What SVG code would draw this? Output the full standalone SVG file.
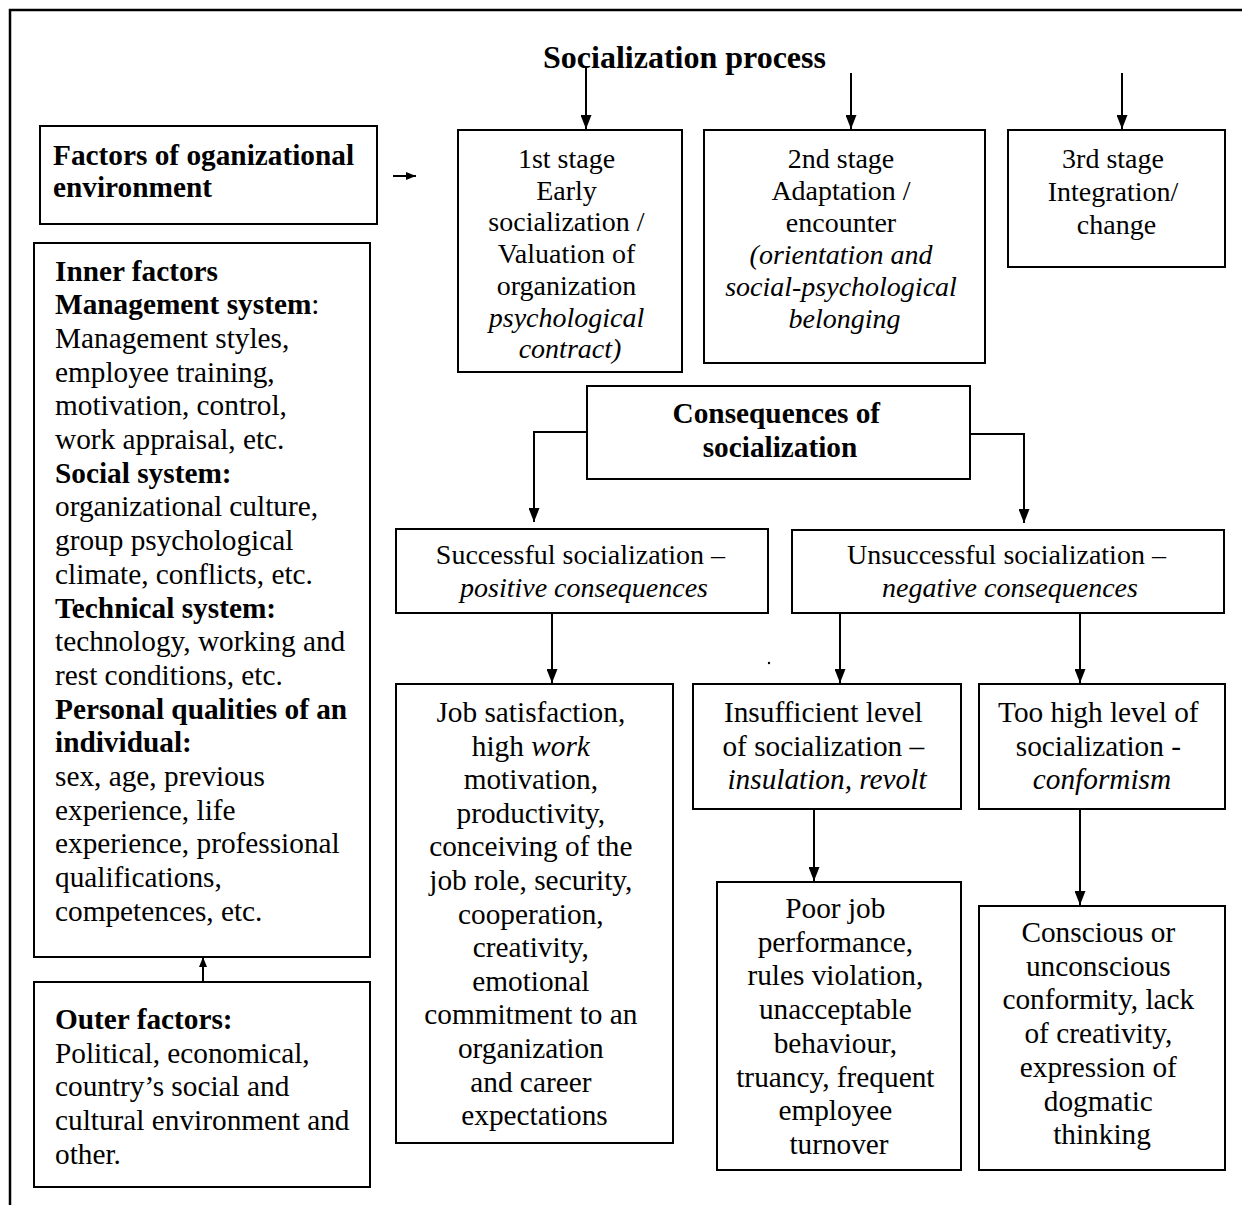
<svg xmlns="http://www.w3.org/2000/svg" width="1242" height="1205" viewBox="0 0 1242 1205">
<style>
.bx{fill:#fff;stroke:#000;stroke-width:2}
.t{font-family:"Liberation Serif","Times New Roman",serif;font-size:29.3px;fill:#000}
.s{font-size:28px}
.h{font-size:32px}
.b{font-weight:bold}
.i{font-style:italic}
.c{text-anchor:middle}
.ln{fill:none;stroke:#000;stroke-width:2}
</style>
<defs>
<marker id="arr" markerUnits="userSpaceOnUse" markerWidth="14" markerHeight="11" refX="14" refY="5.5" orient="auto"><path d="M0,0 L14,5.5 L0,11 z" fill="#000"/></marker>
<marker id="arrs" markerUnits="userSpaceOnUse" markerWidth="10" markerHeight="8" refX="10" refY="4" orient="auto"><path d="M0,0 L10,4 L0,8 z" fill="#000"/></marker>
</defs>
<rect x="0" y="0" width="1242" height="1205" fill="#fff"/>
<path d="M10,1205 V10 H1242" fill="none" stroke="#000" stroke-width="2.5"/>

<g id="title"><text class="t h b c" x="684.5" y="68">Socialization process</text></g>

<g id="factors">
<rect class="bx" x="40" y="126" width="337" height="98"/>
<text class="t b" x="53" y="165">Factors of oganizational</text>
<text class="t b" x="53" y="197">environment</text>
</g>

<g id="inner">
<rect class="bx" x="34" y="243" width="336" height="714"/>
<text class="t" x="55">
<tspan x="55" y="280.5" class="b">Inner factors</tspan>
<tspan x="55" y="314.2"><tspan class="b">Management system</tspan>:</tspan>
<tspan x="55" y="347.9">Management styles,</tspan>
<tspan x="55" y="381.6">employee training,</tspan>
<tspan x="55" y="415.3">motivation, control,</tspan>
<tspan x="55" y="449">work appraisal, etc.</tspan>
<tspan x="55" y="482.7" class="b">Social system:</tspan>
<tspan x="55" y="516.4">organizational culture,</tspan>
<tspan x="55" y="550.1">group psychological</tspan>
<tspan x="55" y="583.8">climate, conflicts, etc.</tspan>
<tspan x="55" y="617.5" class="b">Technical system:</tspan>
<tspan x="55" y="651.2">technology, working and</tspan>
<tspan x="55" y="684.9">rest conditions, etc.</tspan>
<tspan x="55" y="718.6" class="b">Personal qualities of an</tspan>
<tspan x="55" y="752.3" class="b">individual:</tspan>
<tspan x="55" y="786">sex, age, previous</tspan>
<tspan x="55" y="819.7">experience, life</tspan>
<tspan x="55" y="853.4">experience, professional</tspan>
<tspan x="55" y="887.1">qualifications,</tspan>
<tspan x="55" y="920.8">competences, etc.</tspan>
</text>
</g>

<g id="outer">
<rect class="bx" x="34" y="982" width="336" height="205"/>
<text class="t">
<tspan x="55" y="1029" class="b">Outer factors:</tspan>
<tspan x="55" y="1062.7">Political, economical,</tspan>
<tspan x="55" y="1096.4">country’s social and</tspan>
<tspan x="55" y="1130.1">cultural environment and</tspan>
<tspan x="55" y="1163.8">other.</tspan>
</text>
</g>

<g id="stage1">
<rect class="bx" x="458" y="130" width="224" height="242"/>
<text class="t s c">
<tspan x="570" y="168">1st stage</tspan>
<tspan x="570" y="199.7">Early</tspan>
<tspan x="570" y="231.4">socialization /</tspan>
<tspan x="570" y="263.1">Valuation of</tspan>
<tspan x="570" y="294.8">organization</tspan>
<tspan x="570" y="326.5" class="i">psychological</tspan>
<tspan x="570" y="358.2" class="i">contract)</tspan>
</text>
</g>

<g id="stage2">
<rect class="bx" x="704" y="130" width="281" height="233"/>
<text class="t s c">
<tspan x="844.5" y="168">2nd stage</tspan>
<tspan x="844.5" y="200">Adaptation /</tspan>
<tspan x="844.5" y="232">encounter</tspan>
<tspan x="844.5" y="264" class="i">(orientation and</tspan>
<tspan x="844.5" y="296" class="i">social-psychological</tspan>
<tspan x="844.5" y="328" class="i">belonging</tspan>
</text>
</g>

<g id="stage3">
<rect class="bx" x="1008" y="130" width="217" height="137"/>
<text class="t s c">
<tspan x="1116.5" y="168">3rd stage</tspan>
<tspan x="1116.5" y="201">Integration/</tspan>
<tspan x="1116.5" y="234">change</tspan>
</text>
</g>

<g id="consequences">
<rect class="bx" x="587" y="386" width="383" height="93"/>
<text class="t b c">
<tspan x="780" y="423">Consequences of</tspan>
<tspan x="780" y="457">socialization</tspan>
</text>
</g>

<g id="successful">
<rect class="bx" x="396" y="529" width="372" height="84"/>
<text class="t s c">
<tspan x="584" y="564">Successful socialization –</tspan>
<tspan x="584" y="597" class="i">positive consequences</tspan>
</text>
</g>

<g id="unsuccessful">
<rect class="bx" x="792" y="530" width="432" height="83"/>
<text class="t s c">
<tspan x="1010" y="564">Unsuccessful socialization –</tspan>
<tspan x="1010" y="597" class="i">negative consequences</tspan>
</text>
</g>

<g id="job">
<rect class="bx" x="396" y="684" width="277" height="459"/>
<text class="t c">
<tspan x="534.5" y="722">Job satisfaction,</tspan>
<tspan x="534.5" y="755.6">high <tspan class="i">work</tspan></tspan>
<tspan x="534.5" y="789.2">motivation,</tspan>
<tspan x="534.5" y="822.8">productivity,</tspan>
<tspan x="534.5" y="856.4">conceiving of the</tspan>
<tspan x="534.5" y="890">job role, security,</tspan>
<tspan x="534.5" y="923.6">cooperation,</tspan>
<tspan x="534.5" y="957.2">creativity,</tspan>
<tspan x="534.5" y="990.8">emotional</tspan>
<tspan x="534.5" y="1024.4">commitment to an</tspan>
<tspan x="534.5" y="1058">organization</tspan>
<tspan x="534.5" y="1091.6">and career</tspan>
<tspan x="534.5" y="1125.2">expectations</tspan>
</text>
</g>

<g id="insufficient">
<rect class="bx" x="693" y="684" width="268" height="125"/>
<text class="t c">
<tspan x="827" y="722">Insufficient level</tspan>
<tspan x="827" y="755.5">of socialization –</tspan>
<tspan x="827" y="789" class="i">insulation, revolt</tspan>
</text>
</g>

<g id="toohigh">
<rect class="bx" x="979" y="684" width="246" height="125"/>
<text class="t c">
<tspan x="1102" y="722">Too high level of</tspan>
<tspan x="1102" y="755.5">socialization -</tspan>
<tspan x="1102" y="789" class="i">conformism</tspan>
</text>
</g>

<g id="poor">
<rect class="bx" x="717" y="882" width="244" height="288"/>
<text class="t c">
<tspan x="839" y="918">Poor job</tspan>
<tspan x="839" y="951.7">performance,</tspan>
<tspan x="839" y="985.4">rules violation,</tspan>
<tspan x="839" y="1019.1">unacceptable</tspan>
<tspan x="839" y="1052.8">behaviour,</tspan>
<tspan x="839" y="1086.5">truancy, frequent</tspan>
<tspan x="839" y="1120.2">employee</tspan>
<tspan x="839" y="1153.9">turnover</tspan>
</text>
</g>

<g id="conscious">
<rect class="bx" x="979" y="906" width="246" height="264"/>
<text class="t c">
<tspan x="1102" y="942">Conscious or</tspan>
<tspan x="1102" y="975.7">unconscious</tspan>
<tspan x="1102" y="1009.4">conformity, lack</tspan>
<tspan x="1102" y="1043.1">of creativity,</tspan>
<tspan x="1102" y="1076.8">expression of</tspan>
<tspan x="1102" y="1110.5">dogmatic</tspan>
<tspan x="1102" y="1144.2">thinking</tspan>
</text>
</g>

<g id="connectors">
<path class="ln" d="M586,68 V129" marker-end="url(#arr)"/>
<path class="ln" d="M851,73 V129" marker-end="url(#arr)"/>
<path class="ln" d="M1122,73 V129" marker-end="url(#arr)"/>
<path class="ln" d="M393,176 H416" marker-end="url(#arrs)"/>
<path class="ln" d="M587,432 H534 V522" marker-end="url(#arr)"/>
<path class="ln" d="M970,434 H1024 V523" marker-end="url(#arr)"/>
<path class="ln" d="M552,613 V683" marker-end="url(#arr)"/>
<path class="ln" d="M840,613 V683" marker-end="url(#arr)"/>
<path class="ln" d="M1080,613 V683" marker-end="url(#arr)"/>
<path class="ln" d="M814,809 V881" marker-end="url(#arr)"/>
<path class="ln" d="M1080,809 V905" marker-end="url(#arr)"/>
<path class="ln" d="M203,982 V957" marker-end="url(#arrs)"/>
</g>
<circle cx="769" cy="663" r="1.2" fill="#000"/>
</svg>
